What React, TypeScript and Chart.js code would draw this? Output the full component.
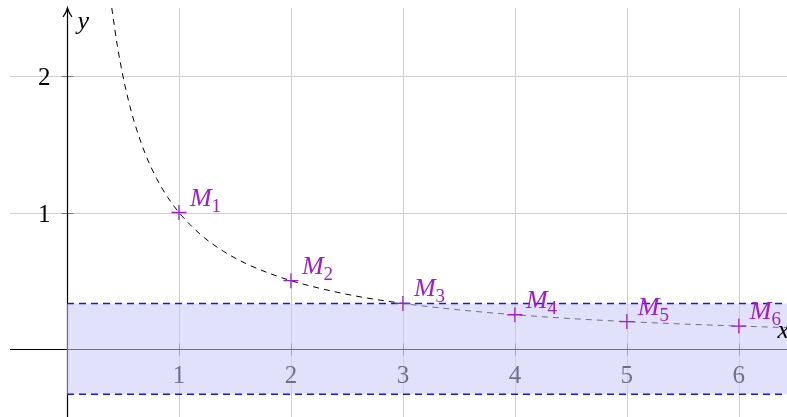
import { useEffect, useRef } from 'react';
import { Chart, registerables } from 'chart.js';

Chart.register(...registerables);

// Visible window of the plane
const X_MIN = -0.5;
const X_MAX = 6.43;
const Y_MIN = -0.5;
const Y_MAX = 2.5;

// Sampled points of the hyperbola y = 1/x (dashed curve)
const curveX = [0.4, 0.45, 0.5, 0.55, 0.6, 0.7, 0.8, 0.9, 1, 1.2, 1.4, 1.6, 1.8, 2, 2.5, 3, 3.5, 4, 4.5, 5, 5.5, 6, 6.5];
const curveY = [2.5, 2.222, 2, 1.818, 1.667, 1.429, 1.25, 1.111, 1, 0.833, 0.714, 0.625, 0.556, 0.5, 0.4, 0.333, 0.286, 0.25, 0.222, 0.2, 0.182, 0.167, 0.154];

// Marked points M1..M6
const pointX = [1, 2, 3, 4, 5, 6];
const pointY = [1, 0.5, 0.333, 0.25, 0.2, 0.167];
const pointSubs = ['1', '2', '3', '4', '5', '6'];

// Horizontal strip between -1/3 and 1/3
const bandX = [0, 6.5];
const bandLow = -0.333;
const bandHigh = 0.333;

// Ticks and grid
const xTicks = [1, 2, 3, 4, 5, 6];
const yTicks = [1, 2];

const PURPLE = 'rgb(160, 28, 205)';
const BLUE = 'rgb(20, 20, 250)';
const SERIF = '"Liberation Serif", "DejaVu Serif", serif';

const axesPlugin = {
  id: 'axesThroughOrigin',
  beforeDatasetsDraw(chart: any) {
    const { ctx, chartArea } = chart;
    const { left, right, top, bottom } = chartArea;
    const xs = chart.scales.x;
    const ys = chart.scales.y;
    const x0 = Math.round(xs.getPixelForValue(0)) + 0.5;
    const y0 = Math.round(ys.getPixelForValue(0)) + 0.5;
    ctx.save();
    // grid
    ctx.strokeStyle = '#cfcfcf';
    ctx.lineWidth = 1;
    ctx.beginPath();
    xTicks.forEach((v) => {
      const px = Math.round(xs.getPixelForValue(v)) + 0.5;
      ctx.moveTo(px, top);
      ctx.lineTo(px, bottom);
    });
    yTicks.forEach((v) => {
      const py = Math.round(ys.getPixelForValue(v)) + 0.5;
      ctx.moveTo(left - 1, py);
      ctx.lineTo(right, py);
    });
    ctx.stroke();
    // tick marks
    ctx.strokeStyle = 'rgba(0,0,0,0.4)';
    ctx.beginPath();
    xTicks.forEach((v) => {
      const px = Math.round(xs.getPixelForValue(v)) + 0.5;
      ctx.moveTo(px, y0 - 6);
      ctx.lineTo(px, y0 + 6);
    });
    yTicks.forEach((v) => {
      const py = Math.round(ys.getPixelForValue(v)) + 0.5;
      ctx.moveTo(x0 - 6, py);
      ctx.lineTo(x0 + 6, py);
    });
    ctx.stroke();
    // axes
    ctx.strokeStyle = '#000';
    ctx.lineWidth = 1.2;
    ctx.beginPath();
    ctx.moveTo(left - 1, y0);
    ctx.lineTo(right, y0);
    ctx.moveTo(x0, bottom);
    ctx.lineTo(x0, top);
    ctx.stroke();
    // tick labels
    ctx.fillStyle = '#000';
    ctx.font = `25px ${SERIF}`;
    ctx.textBaseline = 'alphabetic';
    ctx.textAlign = 'center';
    xTicks.forEach((v) => {
      ctx.fillText(String(v), xs.getPixelForValue(v), y0 + 33);
    });
    ctx.textAlign = 'right';
    yTicks.forEach((v) => {
      ctx.fillText(String(v), x0 - 17, ys.getPixelForValue(v) + 9);
    });
    ctx.restore();
  },
  afterDatasetsDraw(chart: any) {
    const { ctx, chartArea } = chart;
    const { right, top } = chartArea;
    const xs = chart.scales.x;
    const ys = chart.scales.y;
    const x0 = Math.round(xs.getPixelForValue(0)) + 0.5;
    const y0 = Math.round(ys.getPixelForValue(0)) + 0.5;
    ctx.save();
    // arrow head on the y axis
    ctx.strokeStyle = '#000';
    ctx.lineWidth = 1.2;
    ctx.beginPath();
    ctx.moveTo(x0 - 4.5, top + 9);
    ctx.quadraticCurveTo(x0 - 1, top + 4, x0, top);
    ctx.quadraticCurveTo(x0 + 1, top + 4, x0 + 4.5, top + 9);
    ctx.stroke();
    // axis names
    ctx.fillStyle = '#000';
    ctx.font = `italic 26px ${SERIF}`;
    ctx.textBaseline = 'alphabetic';
    ctx.textAlign = 'left';
    ctx.fillText('y', x0 + 10, top + 21);
    ctx.textAlign = 'right';
    ctx.fillText('x', right + 2, y0 - 12);
    // point names
    ctx.fillStyle = PURPLE;
    ctx.textAlign = 'left';
    pointX.forEach((v, i) => {
      const px = xs.getPixelForValue(v);
      const py = ys.getPixelForValue(pointY[i]);
      ctx.font = `italic 26px ${SERIF}`;
      ctx.fillText('M', px + 11, py - 7);
      const w = ctx.measureText('M').width;
      ctx.font = `19px ${SERIF}`;
      ctx.fillText(pointSubs[i], px + 11 + w, py - 1);
    });
    ctx.restore();
  },
};

export default function App() {
  const canvasRef = useRef<HTMLCanvasElement | null>(null);

  useEffect(() => {
    document.body.style.margin = '0';
    const canvas = canvasRef.current;
    if (!canvas) return;
    const chart = new Chart(canvas, {
      type: 'line',
      data: {
        datasets: [
          {
            label: 'points',
            data: pointX.map((x, i) => ({ x, y: pointY[i] })),
            showLine: false,
            pointStyle: 'cross',
            pointRadius: 7.5,
            pointBorderColor: PURPLE,
            pointBorderWidth: 1.3,
            borderColor: PURPLE,
            order: 0,
          },
          {
            label: 'upper',
            data: bandX.map((x) => ({ x, y: bandHigh })),
            borderColor: BLUE,
            borderWidth: 1.5,
            borderDash: [7, 5],
            pointRadius: 0,
            fill: false,
            order: 1,
          },
          {
            label: 'lower',
            data: bandX.map((x) => ({ x, y: bandLow })),
            borderColor: BLUE,
            borderWidth: 1.5,
            borderDash: [7, 5],
            pointRadius: 0,
            fill: '-1',
            backgroundColor: 'rgba(200, 200, 250, 0.55)',
            order: 2,
          },
          {
            label: 'curve',
            data: curveX.map((x, i) => ({ x, y: curveY[i] })),
            borderColor: '#000',
            borderWidth: 1,
            borderDash: [6, 5],
            pointRadius: 0,
            cubicInterpolationMode: 'monotone',
            fill: false,
            order: 3,
          },
        ],
      },
      options: {
        responsive: false,
        animation: false,
        devicePixelRatio: 1,
        layout: { autoPadding: false, padding: { left: 11, top: 8, right: 0, bottom: 0 } },
        plugins: { legend: { display: false }, tooltip: { enabled: false } },
        scales: {
          x: { type: 'linear', min: X_MIN, max: X_MAX, display: false },
          y: { type: 'linear', min: Y_MIN, max: Y_MAX, display: false },
        },
      },
      plugins: [axesPlugin],
    } as any);
    return () => chart.destroy();
  }, []);

  return <canvas ref={canvasRef} width={787} height={417} style={{ display: 'block' }} />;
}
